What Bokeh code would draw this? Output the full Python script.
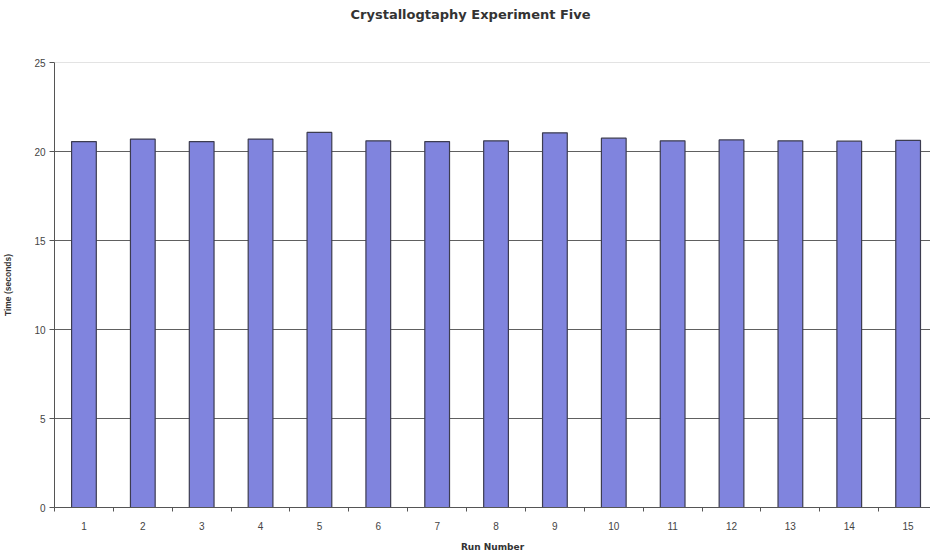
from bokeh.plotting import figure
from bokeh.models import FixedTicker, Range1d, ColumnDataSource, Span, Title
from bokeh.embed import file_html
from bokeh.resources import INLINE

title_text = "Crystallogtaphy Experiment Five"
runs = list(range(1, 16))
times = [20.56, 20.7, 20.56, 20.7, 21.07, 20.6, 20.56, 20.6, 21.05, 20.75, 20.6, 20.65, 20.6, 20.58, 20.62]
y_ticks = [0, 5, 10, 15, 20, 25]

src = ColumnDataSource(dict(x=runs, top=times))

p = figure(width=930, height=557, output_backend="svg", toolbar_location=None,
           x_range=Range1d(0.5, 15.38), y_range=Range1d(0, 25),
           min_border_left=52, min_border_right=0, min_border_top=62, min_border_bottom=50)
p.outline_line_color = None
p.background_fill_color = "white"
p.border_fill_color = "white"

# spacer between the frame and the title
p.add_layout(Title(text=" ", text_font_size="2px", standoff=33), "above")

p.title.text = title_text
p.title.align = "left"
p.title.text_font = "DejaVu Sans"
p.title.text_font_style = "bold"
p.title.text_font_size = "13px"
p.title.text_color = "#333333"
p.title.offset = 296
p.title.standoff = 8

p.vbar(x="x", top="top", width=0.42, bottom=0, source=src,
       fill_color="#8084de", line_color="#3c3c50", line_width=1.2)

# grid
p.xgrid.grid_line_color = None
p.ygrid.ticker = FixedTicker(ticks=[5, 10, 15, 20])
p.ygrid.grid_line_color = "#606060"
p.ygrid.grid_line_width = 1
p.add_layout(Span(location=25, dimension="width", line_color="#c8c8c8", line_width=1))

# y axis
ya = p.yaxis[0]
ya.ticker = FixedTicker(ticks=y_ticks)
ya.axis_label = "Time (seconds)"
ya.axis_label_text_font = "Liberation Sans"
ya.axis_label_text_font_style = "bold"
ya.axis_label_text_font_size = "8.5px"
ya.axis_label_text_color = "#333333"
ya.axis_label_standoff = 18
ya.major_label_text_font = "Liberation Sans"
ya.major_label_text_font_size = "10px"
ya.major_label_text_color = "#444444"
ya.major_label_standoff = 4
ya.axis_line_color = "#555555"
ya.major_tick_line_color = "#555555"
ya.major_tick_out = 5
ya.major_tick_in = 0
ya.minor_tick_line_color = None

# x axis
xa = p.xaxis[0]
xa.ticker = FixedTicker(ticks=runs, minor_ticks=[r + 0.5 for r in [0] + runs])
xa.axis_label = "Run Number"
xa.axis_label_text_font = "DejaVu Sans"
xa.axis_label_text_font_style = "bold"
xa.axis_label_text_font_size = "9px"
xa.axis_label_text_color = "#333333"
xa.axis_label_standoff = 9
xa.major_label_text_font = "Liberation Sans"
xa.major_label_text_font_size = "10px"
xa.major_label_text_color = "#444444"
xa.major_label_standoff = 10
xa.axis_line_color = "#555555"
xa.major_tick_line_color = None
xa.major_tick_out = 0
xa.major_tick_in = 0
xa.minor_tick_line_color = "#555555"
xa.minor_tick_out = 4
xa.minor_tick_in = 0

open("out.html", "w").write(file_html(p, INLINE))
